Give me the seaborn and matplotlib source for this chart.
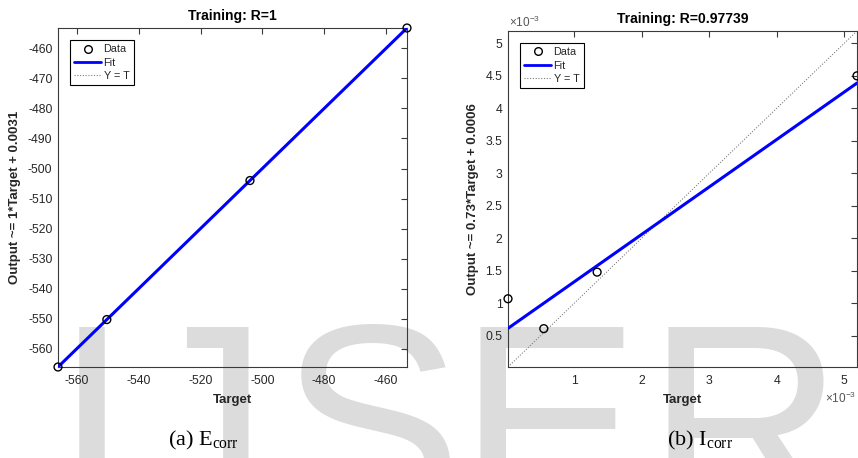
import matplotlib
matplotlib.use("Agg")
import matplotlib.pyplot as plt
from matplotlib.lines import Line2D
from matplotlib.ticker import FuncFormatter, MultipleLocator
import numpy as np
import pandas as pd
import seaborn as sns

# E_corr network: training targets vs. outputs
ecorr_target = [-566.1, -550.3, -504.0, -453.2]
ecorr_output = [-566.1, -550.3, -504.0, -453.2]
ecorr_slope, ecorr_offset = 1.0, 0.0031
ecorr_r = "1"

# I_corr network: training targets vs. outputs
icorr_target = [0.00002, 0.00055, 0.00134, 0.00519]
icorr_output = [0.00107, 0.00061, 0.00148, 0.00450]
icorr_slope, icorr_offset = 0.73, 0.0006
icorr_r = "0.97739"

captions = [("(a) E", "corr"), ("(b) I", "corr")]
watermark = [("I", 92), ("J", 200), ("S", 371), ("E", 549), ("R", 744)]

sns.set_theme(style="white")
plt.rcParams["font.family"] = ["Liberation Sans", "DejaVu Sans"]
plt.rcParams["axes.unicode_minus"] = False
plt.rcParams["mathtext.fontset"] = "custom"
plt.rcParams["mathtext.rm"] = "Liberation Serif"
plt.rcParams["mathtext.sf"] = "Liberation Sans"

W, H = 858, 458
fig = plt.figure(figsize=(W / 100, H / 100), dpi=100)
fig.patch.set_facecolor("white")


def px_axes(left, top, right, bottom):
    return fig.add_axes([left / W, 1 - bottom / H, (right - left) / W, (bottom - top) / H])


ax1 = px_axes(58, 28, 407, 367)
ax2 = px_axes(508, 31, 857, 367)

TXT = "#262626"


def regression_panel(ax, target, output, slope, offset, r, coef_label):
    df = pd.DataFrame({"Target": target, "Output": output})
    lo = min(df["Target"].min(), df["Output"].min())
    hi = max(df["Target"].max(), df["Output"].max())
    line = pd.DataFrame({"x": [lo, hi]})
    line["fit"] = slope * line["x"] + offset
    line["ident"] = line["x"]

    sns.lineplot(data=line, x="x", y="ident", ax=ax, color="#808080",
                 lw=0.8, linestyle=(0, (1, 1.5)), zorder=2)
    sns.lineplot(data=line, x="x", y="fit", ax=ax, color="#0000ff",
                 lw=2.2, zorder=3)
    sns.scatterplot(data=df, x="Target", y="Output", ax=ax, marker="o",
                    s=32, facecolor="none", edgecolor="black",
                    linewidth=1.0, zorder=4, clip_on=False)

    ax.set_xlim(lo, hi)
    ax.set_ylim(lo, hi)
    ax.set_facecolor("none")
    for sp in ax.spines.values():
        sp.set_color("#3a3a3a")
        sp.set_linewidth(0.8)
    ax.tick_params(direction="in", length=4, width=0.8, top=True, right=True,
                   colors="#3a3a3a", labelcolor=TXT, labelsize=8.8)
    ax.tick_params(axis="x", pad=6)
    ax.tick_params(axis="y", pad=4)
    ax.set_title(f"Training: R={r}", fontsize=10, fontweight="bold",
                 color="black", pad=6)
    ax.set_xlabel("Target", fontsize=9.5, fontweight="bold", color=TXT,
                  labelpad=5)
    ax.set_ylabel(f"Output ~= {coef_label}*Target + {offset:g}", fontsize=9.5,
                  fontweight="bold", color=TXT, labelpad=5)

    handles = [
        Line2D([], [], marker="o", ls="none", mfc="none", mec="black", ms=5.5, mew=1.0),
        Line2D([], [], color="#0000ff", lw=2.0),
        Line2D([], [], color="#808080", lw=0.8, ls=(0, (1, 1.5))),
    ]
    leg = ax.legend(handles, ["Data", "Fit", "Y = T"], loc="upper left",
                    bbox_to_anchor=(12 / 349, 1 - 12 / 338), borderaxespad=0,
                    fontsize=7.8, handlelength=2.5, handletextpad=0.2,
                    borderpad=0.4, labelspacing=0.3, fancybox=False,
                    framealpha=1, edgecolor="black")
    leg.get_frame().set_linewidth(0.8)


regression_panel(ax1, ecorr_target, ecorr_output, ecorr_slope, ecorr_offset,
                 ecorr_r, f"{ecorr_slope:g}")
ax1.xaxis.set_major_locator(MultipleLocator(20))
ax1.yaxis.set_major_locator(MultipleLocator(10))

regression_panel(ax2, icorr_target, icorr_output, icorr_slope, icorr_offset,
                 icorr_r, f"{icorr_slope:g}")
ax2.xaxis.set_major_locator(MultipleLocator(0.001))
ax2.yaxis.set_major_locator(MultipleLocator(0.0005))
milli = FuncFormatter(lambda v, _: f"{v * 1e3:g}")
ax2.xaxis.set_major_formatter(milli)
ax2.yaxis.set_major_formatter(milli)

# exponent labels for the scaled I_corr axes
fig.text(509 / W, 1 - 27 / H, r"×10$^{\mathsf{-3}}$", fontsize=8.5, color="#555555",
         ha="left", va="baseline")
fig.text(825 / W, 1 - 403 / H, r"×10$^{\mathsf{-3}}$", fontsize=8.5, color="#555555",
         ha="left", va="baseline")

# sub-figure captions
for (main, sub), xc in zip(captions, [203, 700]):
    fig.text(xc / W, 1 - 445 / H, main + r"$_{\mathrm{" + sub + "}}$",
             fontsize=16, color="black", ha="center", va="baseline",
             family="Liberation Serif")

# background watermark lettering
for letter, xc in watermark:
    fig.text(xc / W, 1 - 516 / H, letter, fontsize=197, color="#dcdcdc",
             ha="center", va="baseline", zorder=-1, family="Liberation Sans")

fig.savefig("out.png", dpi=100, facecolor="white")
